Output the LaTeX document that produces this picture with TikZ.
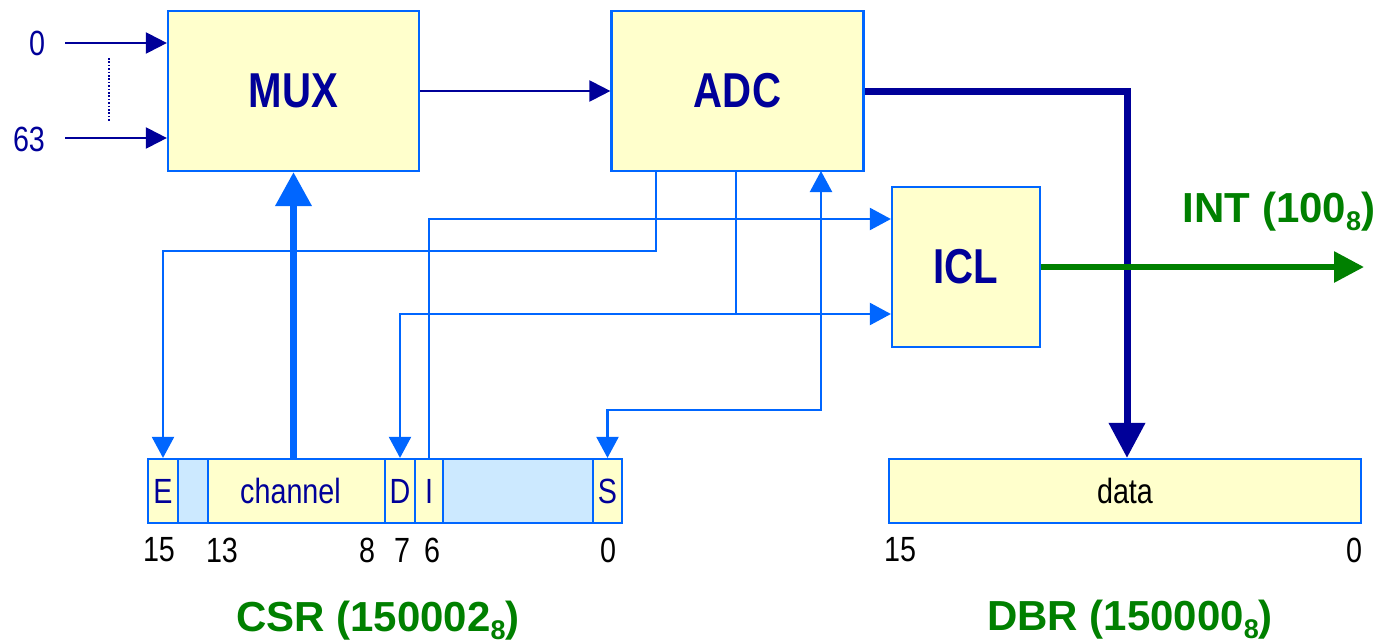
\documentclass[tikz,border=0pt]{standalone}
\usepackage{fontspec}
\setmainfont{Liberation Sans}
\newfontfamily\narrowfont[FakeStretch=0.82]{Liberation Sans}
\usetikzlibrary{arrows.meta,calc}
\definecolor{boxfill}{HTML}{FFFFCC}
\definecolor{boxline}{HTML}{0066FF}
\definecolor{navy}{HTML}{000099}
\definecolor{grn}{HTML}{008000}
\definecolor{cellblue}{HTML}{CCE9FF}
\newcommand\subeight{\raisebox{-8pt}{\fontsize{27}{27}\selectfont 8}}
\begin{document}
\begin{tikzpicture}[x=1pt,y=-1pt,
  blk/.style={draw=boxline,line width=2.2pt,fill=boxfill,inner sep=0pt,text=navy,
    font=\narrowfont\bfseries\fontsize{49}{55}\selectfont},
  cell/.style={draw=boxline,line width=2.2pt,fill=boxfill,inner sep=0pt,minimum height=64pt,
    text=navy,font=\narrowfont\fontsize{35}{40}\selectfont},
  bcell/.style={cell,fill=cellblue},
  num/.style={inner sep=0pt,font=\narrowfont\fontsize{35}{40}\selectfont},
  glabel/.style={inner sep=0pt,anchor=base,text=grn,font=\bfseries\fontsize{42}{48}\selectfont},
  conn/.style={draw=boxline,line width=2.2pt},
  ctip/.style={-{Triangle[length=21pt,width=22pt]}},
  ntip/.style={-{Triangle[length=21pt,width=21pt]}}
]
\useasboundingbox (0,0) rectangle (1385,643);

% blocks
\node[blk,minimum width=251pt,minimum height=160pt] (mux) at (293.5,91) {MUX};
\node[blk,minimum width=252pt,minimum height=160pt] (adc) at (737.5,91) {ADC};
\node[blk,minimum width=148pt,minimum height=160pt] (icl) at (966,267) {ICL};

% CSR cells
\node[cell,minimum width=30pt] (E) at (163,491) {E};
\node[bcell,minimum width=30pt] (B1) at (193,491) {};
\node[cell,minimum width=177pt] (ch) at (296.5,491) {channel\kern12pt\relax};
\node[cell,minimum width=30pt] (D) at (400,491) {D};
\node[cell,minimum width=28pt] (I) at (429,491) {I};
\node[bcell,minimum width=150pt] (B2) at (518,491) {};
\node[cell,minimum width=29pt] (S) at (607.5,491) {S};

% DBR
\node[cell,minimum width=472pt,text=black] (dbr) at (1125,491) {data};

% bit numbers
\node[num] (n15) at (159,550) {15};
\node[num] (n13) at (222,550) {13};
\node[num] (n8) at (367,550) {8};
\node[num] (n7) at (402,550) {7};
\node[num] (n6) at (432,550) {6};
\node[num] (n0) at (608,550) {0};
\node[num] (m15) at (900,550) {15};
\node[num] (m0) at (1354,550) {0};

% inputs
\node[num,text=navy] (l0) at (37,43) {0};
\node[num,text=navy] (l63) at (29,139) {63};
\coordinate (in0) at (65,43);
\coordinate (in63) at (65,138);
\draw[navy,line width=2.2pt,ntip] (in0) -- (mux.west |- in0);
\draw[navy,line width=2.2pt,ntip] (in63) -- (mux.west |- in63);
\coordinate (dt) at (109,58);
\coordinate (db) at (109,122);
\draw[navy,line width=2pt,dash pattern=on 1.6pt off 1.8pt] (dt) -- (db);

% MUX -> ADC
\draw[navy,line width=2.2pt,ntip] (mux.east) -- (adc.west);

% ADC -> DBR
\coordinate (corner) at (1127,91);
\draw[navy,line width=7pt,-{Triangle[length=35pt,width=35pt]}] (adc.east) -- (corner) -- (corner |- dbr.north);

% ICL -> INT
\coordinate (intend) at (1364,267);
\draw[grn,line width=6pt,-{Triangle[length=30pt,width=30pt]}] (icl.east) -- (intend);
\node[glabel] (intl) at (1279,222) {INT (100\subeight)};

% channel -> MUX
\draw[boxline,line width=7pt,-{Triangle[length=34pt,width=35pt]}] (mux.south |- ch.north) -- (mux.south);

% control lines
\coordinate (a1) at (656,171);
\coordinate (a2) at (736,171);
\coordinate (a3) at (821,171);
\coordinate (h1) at (0,251);
\coordinate (h2) at (0,314);
\coordinate (h3) at (0,219);
\coordinate (h4) at (0,410);
\draw[conn,ctip] (a1) -- (a1 |- h1) -| (E.north);
\draw[conn,ctip] (a2) -- (a2 |- h2) -| (D.north);
\draw[conn,ctip] (a2 |- h2) -- (icl.west |- h2);
\draw[conn,ctip] (I.north) -- (I.north |- h3) -- (icl.west |- h3);
\draw[conn,{Triangle[length=21pt,width=22pt]}-{Triangle[length=21pt,width=22pt]}] (S.north) -- (S.north |- h4) -| (a3);

% register labels
\node[glabel] (csrl) at (378,631) {CSR (150002\subeight)};
\node[glabel] (dbrl) at (1130,630) {DBR (150000\subeight)};
\end{tikzpicture}
\end{document}
